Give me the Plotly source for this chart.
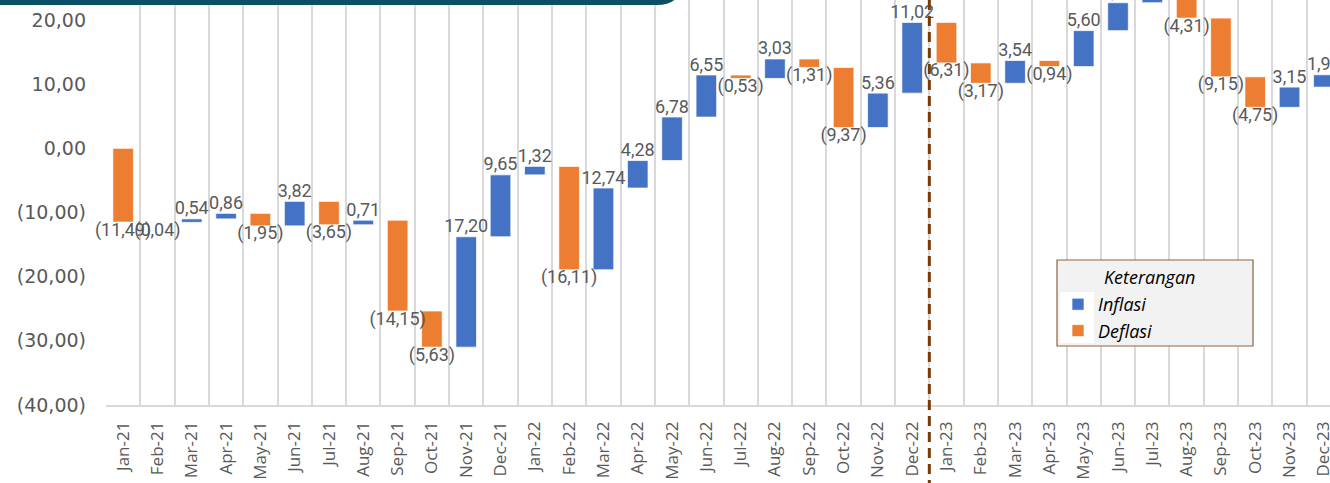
import numpy as np
import plotly.graph_objects as go

months = ["Jan-21", "Feb-21", "Mar-21", "Apr-21", "May-21", "Jun-21", "Jul-21", "Aug-21",
          "Sep-21", "Oct-21", "Nov-21", "Dec-21",
          "Jan-22", "Feb-22", "Mar-22", "Apr-22", "May-22", "Jun-22", "Jul-22", "Aug-22",
          "Sep-22", "Oct-22", "Nov-22", "Dec-22",
          "Jan-23", "Feb-23", "Mar-23", "Apr-23", "May-23", "Jun-23", "Jul-23", "Aug-23",
          "Sep-23", "Oct-23", "Nov-23", "Dec-23"]
changes = [-11.49, -0.04, 0.54, 0.86, -1.95, 3.82, -3.65, 0.71, -14.15, -5.63, 17.20, 9.65,
           1.32, -16.11, 12.74, 4.28, 6.78, 6.55, -0.53, 3.03, -1.31, -9.37, 5.36, 11.02,
           -6.31, -3.17, 3.54, -0.94, 5.60, 4.35, 1.91, -4.31, -9.15, -4.75, 3.15, 1.92]
y_tickvals = [-40, -30, -20, -10, 0, 10, 20]
y_ticktext = ["(40,00)", "(30,00)", "(20,00)", "(10,00)", "0,00", "10,00", "20,00"]

def fmt(v):
    s = f"{abs(v):.2f}".replace(".", ",")
    return f"({s})" if v < 0 else s

ch = np.array(changes)
ends = np.cumsum(ch)
starts = ends - ch

BLUE = "#4472c4"
ORANGE = "#ed7d31"
GREY = "#595959"
LABEL_FONT = dict(family="Roboto, Liberation Sans Narrow, sans-serif", size=18, color=GREY)

fig = go.Figure()
for name, mask, col in [("Inflasi", ch > 0, BLUE), ("Deflasi", ch < 0, ORANGE)]:
    fig.add_bar(
        name=name,
        x=[m for m, k in zip(months, mask) if k],
        y=ch[mask], base=starts[mask],
        marker=dict(color=col, line=dict(color="rgba(255,255,255,0.7)", width=1)),
        width=0.6, hoverinfo="skip",
    )

# value labels drawn on top of all bars
fig.add_scatter(
    x=months, y=ends, mode="text",
    text=[fmt(v) for v in ch],
    textposition=["top center" if v > 0 else "bottom center" for v in ch],
    textfont=LABEL_FONT, cliponaxis=False, showlegend=False, hoverinfo="skip",
)

# pixel helpers (plot area: left 106, top 0, width 1224, height 405)
L, T, W, H = 106, 0, 1224, 405
def px(x):
    return (x - L) / W
def py(y):
    return (T + H - y) / H

shapes = []
# title banner remnant at the top
bx = [-20, 682, 682, 682, 657, -20]
by = [-40, -40, -20, 5, 5, 5]
path = (f"M{px(bx[0])},{py(by[0])} L{px(bx[1])},{py(by[1])} L{px(bx[2])},{py(by[2])} "
        f"Q{px(bx[3])},{py(by[3])} {px(bx[4])},{py(by[4])} L{px(bx[5])},{py(by[5])} Z")
shapes.append(dict(type="path", xref="paper", yref="paper", path=path,
                   fillcolor="#0a4f66", line=dict(width=0), layer="above"))
# divider between 2022 and 2023
shapes.append(dict(type="line", xref="x", yref="paper", x0=23.5, x1=23.5,
                   y0=py(490), y1=py(-5), line=dict(color="#7a3a05", width=3, dash="10px,6px"),
                   layer="above"))
# legend box
shapes.append(dict(type="rect", xref="paper", yref="paper", x0=px(1057), x1=px(1253),
                   y0=py(346), y1=py(260), fillcolor="#f2f2f2",
                   line=dict(color="#8b6540", width=1.2), layer="above"))
shapes.append(dict(type="rect", xref="paper", yref="paper", x0=px(1060), x1=px(1094),
                   y0=py(343), y1=py(292), fillcolor="#ffffff", line=dict(width=0), layer="above"))

ITALIC = dict(family="Open Sans", size=18, color="#000000", style="italic")

fig.update_layout(
    width=1330, height=483,
    margin=dict(l=L, r=0, t=T, b=483 - H),
    paper_bgcolor="white", plot_bgcolor="white",
    barmode="overlay",
    showlegend=True,
    legend=dict(x=px(1058), y=py(286), xanchor="left", yanchor="top",
                bgcolor="rgba(0,0,0,0)", borderwidth=0,
                font=ITALIC, itemclick=False, tracegroupgap=0),
    annotations=[dict(text="Keterangan", xref="paper", yref="paper",
                      x=px(1102), y=py(277), xanchor="left", yanchor="middle",
                      showarrow=False, font=ITALIC)],
    shapes=shapes,
    xaxis=dict(type="category", categoryorder="array", categoryarray=months,
               range=[-0.5, 35.5 - 11 / 34.31],
               tickson="boundaries", showgrid=True, gridcolor="#d9d9d9", gridwidth=1.5,
               showline=True, linecolor="#d9d9d9", linewidth=1.5,
               ticks="", tickangle=-90, ticklabelstandoff=8,
               tickfont=dict(family="Open Sans", size=17, color=GREY),
               automargin=False),
    yaxis=dict(range=[-40, 23.125], tickvals=y_tickvals, ticktext=y_ticktext,
               showgrid=False, zeroline=False, showline=False, ticks="",
               ticklabelstandoff=19,
               tickfont=dict(family="DejaVu Sans", size=19, color=GREY),
               automargin=False),
)

fig.write_html("out.html", config={"displayModeBar": False},
               post_script="document.body.style.margin='0';document.body.style.overflow='hidden';")
